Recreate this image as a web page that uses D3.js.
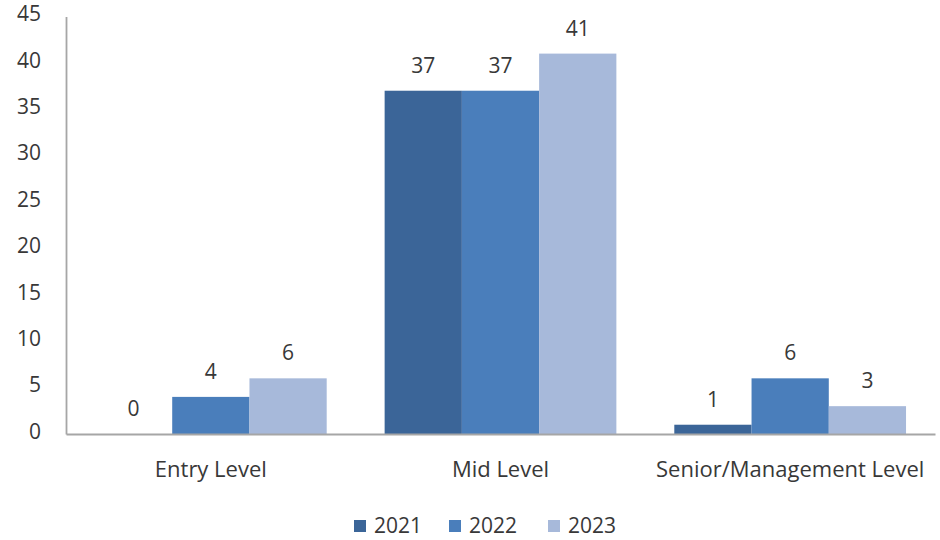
<!DOCTYPE html>
<html>
<head>
<meta charset="utf-8">
<script src="https://d3js.org/d3.v7.min.js"></script>
<style>
  body { margin: 0; background: #fff; }
  text { font-family: "Open Sans", Lato, sans-serif; fill: #383838; }
</style>
</head>
<body>
<div id="graph"></div>
<script>

// data
var categories = ["Entry Level", "Mid Level", "Senior/Management Level"];
var years = ["2021", "2022", "2023"];
var values2021 = [0, 37, 1];
var values2022 = [4, 37, 6];
var values2023 = [6, 41, 3];
var yTicks = [0, 5, 10, 15, 20, 25, 30, 35, 40, 45];
var colors = ["#3b6598", "#4a7ebb", "#a7b9da"];

var series = [values2021, values2022, values2023];

var margin = {top: 16.5, right: 5, bottom: 106, left: 66},
    width = 940 - margin.left - margin.right,
    height = 540 - margin.top - margin.bottom;

var svg = d3.select("#graph")
  .append("svg")
    .attr("width", 940)
    .attr("height", 540)
  .append("g")
    .attr("transform", "translate(" + margin.left + "," + margin.top + ")");

var x = d3.scaleBand()
  .domain(categories)
  .range([0, width])
  .paddingInner(0.2)
  .paddingOuter(0.1);

var xSub = d3.scaleBand()
  .domain(years)
  .range([0, x.bandwidth()]);

var y = d3.scaleLinear()
  .domain([0, 45])
  .range([height, 0]);

// bars
var groups = svg.selectAll(".grp")
  .data(categories)
  .enter()
  .append("g")
    .attr("transform", function(d) { return "translate(" + x(d) + ",0)"; });

groups.selectAll("rect")
  .data(function(d, i) { return years.map(function(yr, j) { return {year: yr, value: series[j][i], j: j}; }); })
  .enter()
  .append("rect")
    .attr("x", function(d) { return xSub(d.year); })
    .attr("width", xSub.bandwidth())
    .attr("y", function(d) { return y(d.value); })
    .attr("height", function(d) { return height - y(d.value); })
    .style("fill", function(d) { return colors[d.j]; });

// value labels
groups.selectAll(".val")
  .data(function(d, i) { return years.map(function(yr, j) { return {year: yr, value: series[j][i]}; }); })
  .enter()
  .append("text")
    .attr("x", function(d) { return xSub(d.year) + xSub.bandwidth() / 2; })
    .attr("y", function(d) { return y(d.value) - 18; })
    .attr("text-anchor", "middle")
    .attr("font-size", "21px")
    .text(function(d) { return d.value; });

// y axis
var yAxis = svg.append("g")
  .call(d3.axisLeft(y).tickValues(yTicks).tickSize(0).tickPadding(25));
yAxis.select(".domain").attr("stroke", "#a6a6a6").attr("stroke-width", 1.8);
yAxis.selectAll("text").attr("font-size", "21px").attr("dy", "0.2em");

// x axis
var xAxis = svg.append("g")
  .attr("transform", "translate(0," + height + ")")
  .call(d3.axisBottom(x).tickSize(0).tickPadding(24));
xAxis.select(".domain").attr("stroke", "#a6a6a6").attr("stroke-width", 1.8);
xAxis.selectAll("text").attr("font-size", "22px").attr("y", 43).attr("dy", 0);

// legend
var legendX = [354, 449, 548];
var legend = d3.select("svg").append("g");
years.forEach(function(yr, j) {
  legend.append("rect")
    .attr("x", legendX[j])
    .attr("y", 520)
    .attr("width", 12)
    .attr("height", 12)
    .style("fill", colors[j]);
  legend.append("text")
    .attr("x", legendX[j] + 20)
    .attr("y", 533)
    .attr("font-size", "21px")
    .text(yr);
});

</script>
</body>
</html>
